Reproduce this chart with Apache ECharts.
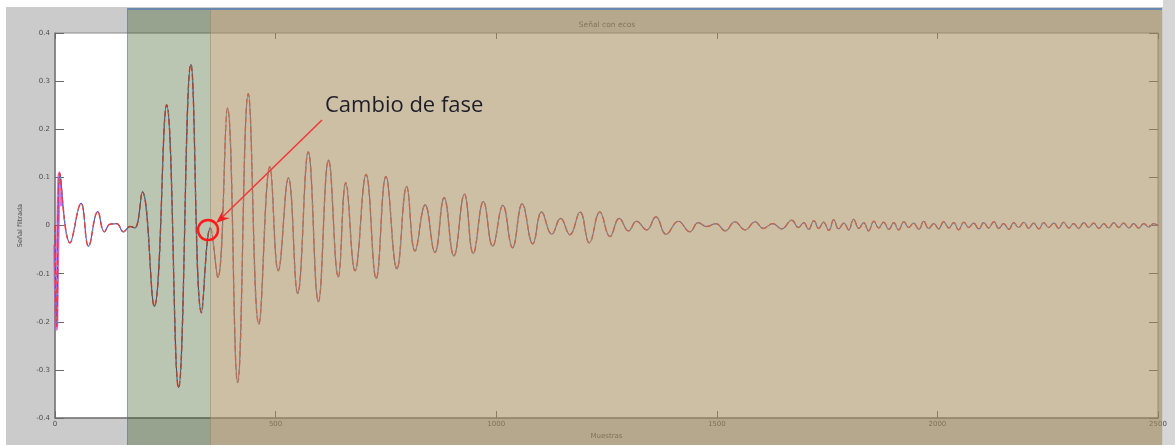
<!DOCTYPE html>
<html>
<head>
<meta charset="utf-8">
<script src="https://cdn.jsdelivr.net/npm/echarts@6/dist/echarts.min.js"></script>
<style>
html,body{margin:0;padding:0;background:#fff;}
#chart{width:1175px;height:445px;}
</style>
</head>
<body>
<div id="chart"></div>
<script>
// ---- data ----
var sampleIdx = [0,4,11,34,59,76,97,112,125,140,155,170,181,198,225,253,280,308,332,352,369,391,414,438,462,487,506,529,550,574,597,620,642,659,680,705,728,750,775,797,816,839,861,882,904,928,948,971,992,1015,1037,1059,1083,1103,1126,1146,1167,1190,1211,1235,1258,1279,1300,1318,1341,1362,1385,1413,1439,1458,1477,1498,1519,1541,1564,1587,1605,1627,1647,1670,1685,
1697,1708,1720,1731,1742,1754,1765,1776,1788,1799,1810,1822,1833,1844,1856,1867,1878,1890,1901,1912,1924,1935,1946,1958,1969,1980,1992,2003,2014,2026,2037,2048,2060,2071,2082,2094,2105,2116,2128,2139,2150,2162,2173,2184,2196,2207,2218,2230,2241,2252,2264,2275,2286,2298,2309,2320,2332,2343,2354,2366,2377,2388,2400,2411,2422,2434,2445,2456,2468,2479,2490,2500];
var senal = [0,-0.21,0.109,-0.036,0.046,-0.043,0.029,-0.013,0.003,0.004,-0.013,-0.002,-0.005,0.070,-0.168,0.251,-0.337,0.335,-0.181,-0.005,-0.108,0.244,-0.326,0.274,-0.205,0.122,-0.094,0.099,-0.141,0.153,-0.158,0.136,-0.107,0.089,-0.094,0.106,-0.110,0.102,-0.090,0.081,-0.053,0.043,-0.056,0.058,-0.063,0.065,-0.058,0.050,-0.043,0.042,-0.046,0.045,-0.038,0.028,-0.018,0.015,-0.019,0.028,-0.036,0.028,-0.023,0.015,-0.011,0.009,-0.009,0.018,-0.018,0.009,-0.013,0.006,-0.002,0.004,-0.011,0.008,-0.009,0.008,-0.006,0.004,-0.007,0.011,-0.004,
0.006,-0.008,0.010,-0.006,0.007,-0.010,0.012,-0.007,0.005,-0.009,0.013,-0.006,0.006,-0.011,0.009,-0.005,0.007,-0.008,0.006,-0.009,0.008,-0.004,0.005,-0.008,0.009,-0.006,0.004,-0.007,0.008,-0.005,0.006,-0.009,0.007,-0.004,0.005,-0.007,0.006,-0.005,0.008,-0.006,0.004,-0.008,0.006,-0.004,0.007,-0.006,0.005,-0.007,0.006,-0.004,0.005,-0.006,0.007,-0.005,0.004,-0.006,0.006,-0.004,0.005,-0.006,0.004,-0.005,0.006,-0.004,0.005,-0.005,0.004,-0.005,0.004,-0.003,0.004,0.000];
var magentaIdx = [0,3,6,10,14];
var magentaVal = [-0.04,-0.215,-0.05,0.109,0.04];
var xTicks = [0,500,1000,1500,2000,2500];
var yTicks = [-0.4,-0.3,-0.2,-0.1,0,0.1,0.2,0.3,0.4];

function pairs(xs, ys){ return xs.map(function(x,i){ return [x, ys[i]]; }); }

var chart = echarts.init(document.getElementById('chart'));
var tickFont = {fontSize:7, color:'#505050', fontFamily:'DejaVu Sans'};
var option = {
  animation:false,
  backgroundColor:'#ffffff',
  grid:{left:55, top:33, right:17, bottom:17, show:true, backgroundColor:'#ffffff', borderColor:'#8a8a8a', borderWidth:1},
  xAxis:[{
    type:'value', min:xTicks[0], max:xTicks[xTicks.length-1], interval:500,
    axisLine:{show:true, onZero:false, lineStyle:{color:'#7a7a7a', width:1.5}},
    axisTick:{show:true, inside:true, length:7, lineStyle:{color:'#6a6a6a'}},
    axisLabel:Object.assign({margin:3, formatter:function(v){ return String(v); }}, tickFont),
    splitLine:{show:false},
    name:'Muestras', nameLocation:'middle', nameGap:13,
    nameTextStyle:{fontSize:7, color:'#505050', fontFamily:'DejaVu Sans'}
  },{
    type:'value', position:'top', min:0, max:2500, interval:500,
    axisLine:{show:false, onZero:false}, axisTick:{show:true, inside:true, length:6, lineStyle:{color:'#6a6a6a'}},
    axisLabel:{show:false}, splitLine:{show:false}
  }],
  yAxis:[{
    type:'value', min:yTicks[0], max:yTicks[yTicks.length-1], interval:0.1,
    axisLine:{show:true, onZero:false, lineStyle:{color:'#7a7a7a', width:1.5}},
    axisTick:{show:true, inside:true, length:9, lineStyle:{color:'#6a6a6a'}},
    axisLabel:Object.assign({margin:5, formatter:function(v){ return String(Math.round(v*10)/10); }}, tickFont),
    splitLine:{show:false},
    name:'Señal filtrada', nameLocation:'middle', nameGap:31,
    nameTextStyle:{fontSize:6.5, color:'#505050', fontFamily:'DejaVu Sans'}
  },{
    type:'value', position:'right', min:-0.4, max:0.4, interval:0.1,
    axisLine:{show:false, onZero:false}, axisTick:{show:true, inside:true, length:9, lineStyle:{color:'#6a6a6a'}},
    axisLabel:{show:false}, splitLine:{show:false}
  }],
  series:[
    {type:'line', data:pairs(magentaIdx, magentaVal), showSymbol:false, smooth:0.3,
     lineStyle:{color:'rgba(215,70,215,0.75)', width:3.5}, z:2},
    {type:'line', data:pairs(sampleIdx, senal), showSymbol:false, smooth:0.45,
     lineStyle:{color:'#4a4ad0', width:1.1}, z:3},
    {type:'line', data:pairs(sampleIdx, senal), showSymbol:false, smooth:0.45,
     lineStyle:{color:'#f03c34', width:1.4, type:[6,3]}, z:4},
    {type:'line', data:pairs(sampleIdx, senal), showSymbol:false, smooth:0.45,
     lineStyle:{color:'#3cb8c0', width:1, type:[2,12], dashOffset:7}, z:5}
  ],
  graphic:[
    {type:'rect', z:-100, shape:{x:6,y:7,width:1169,height:438}, style:{fill:'#cbcbcb'}},
    {type:'rect', z:-99, shape:{x:1163,y:0,width:12,height:445}, style:{fill:'#d6d6d6'}},
    {type:'text', z:1, x:607, y:25, style:{text:'Señal con ecos', fill:'#555', fontSize:7.5, fontFamily:'DejaVu Sans', textAlign:'center', textVerticalAlign:'middle'}},
    {type:'rect', z:100, shape:{x:127,y:10,width:83,height:435}, style:{fill:'rgba(46,82,22,0.33)'}},
    {type:'rect', z:100, shape:{x:210,y:10,width:952,height:435}, style:{fill:'rgba(166,141,92,0.56)'}},
    {type:'line', z:101, shape:{x1:127.5,y1:10,x2:127.5,y2:445}, style:{stroke:'rgba(90,110,140,0.45)', lineWidth:1}},
    {type:'line', z:101, shape:{x1:210.5,y1:10,x2:210.5,y2:445}, style:{stroke:'rgba(110,110,90,0.35)', lineWidth:1}},
    {type:'rect', z:101, shape:{x:127,y:8,width:1035,height:2}, style:{fill:'#6a88ad'}},
    {type:'line', z:110, shape:{x1:322,y1:120,x2:221,y2:218.5}, style:{stroke:'#f03a3a', lineWidth:1.6}},
    {type:'polygon', z:110, shape:{points:[[216,223],[230,218],[222,217],[223,210]]}, style:{fill:'#f02020'}},
    {type:'circle', z:110, shape:{cx:208,cy:230,r:10}, style:{fill:'none', stroke:'#ff1a1a', lineWidth:2.5}},
    {type:'text', z:110, x:325, y:106, style:{text:'Cambio de fase', fill:'#1e1e2a', fontSize:22, fontFamily:'Open Sans', textVerticalAlign:'middle'}}
  ]
};
chart.setOption(option);
</script>
</body>
</html>
